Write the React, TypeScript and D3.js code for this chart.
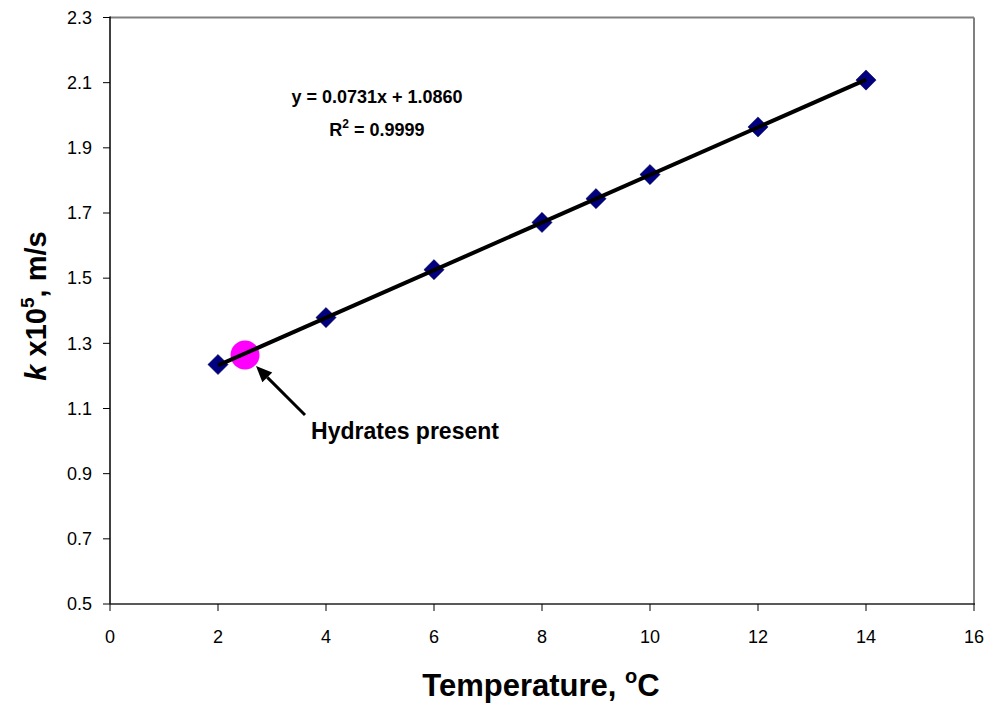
import React from "react";
import * as d3 from "d3";

const temps = [2, 4, 6, 8, 9, 10, 12, 14];
const kValues = [1.235, 1.379, 1.526, 1.671, 1.744, 1.818, 1.964, 2.108];
const hydrateTemp = [2.5];
const hydrateK = [1.264];
const trendSlope = 0.0731;
const trendIntercept = 1.086;
const xTicks = [0, 2, 4, 6, 8, 10, 12, 14, 16];
const yTicks = [0.5, 0.7, 0.9, 1.1, 1.3, 1.5, 1.7, 1.9, 2.1, 2.3];

const W = 988, H = 710;
const left = 110, right = 974, top = 17.5, bottom = 604;

export default function App() {
  const x = d3.scaleLinear().domain([0, 16]).range([left, right]);
  const y = d3.scaleLinear().domain([0.5, 2.3]).range([bottom, top]);
  const font = "'Liberation Sans', Arial, sans-serif";
  const x0 = temps[0], x1 = temps[temps.length - 1];
  const line = d3.line<number>().x((d) => x(d)).y((d) => y(trendSlope * d + trendIntercept));
  const diamond = d3.symbol().type(d3.symbolDiamond2 ?? d3.symbolSquare).size(260)();
  const hx = x(hydrateTemp[0]), hy = y(hydrateK[0]);
  // arrow
  const tipX = hx + 11, tipY = hy + 11;
  const tailX = 305, tailY = 415;
  const ang = Math.atan2(tipY - tailY, tipX - tailX);
  const ah = 16, aw = 7;
  const bx = tipX - ah * Math.cos(ang), by = tipY - ah * Math.sin(ang);
  const p1 = [bx + aw * Math.sin(ang), by - aw * Math.cos(ang)];
  const p2 = [bx - aw * Math.sin(ang), by + aw * Math.cos(ang)];
  return (
    <svg width={W} height={H} style={{ position: "absolute", left: 0, top: 0, background: "#fff" }} fontFamily={font}>
      <rect x={0} y={0} width={W} height={H} fill="#fff" />
      {/* plot frame */}
      <line x1={left} y1={top} x2={right} y2={top} stroke="#808080" strokeWidth={2} />
      <line x1={right} y1={top} x2={right} y2={bottom} stroke="#808080" strokeWidth={2} />
      <line x1={left} y1={top - 1} x2={left} y2={bottom} stroke="#000" strokeWidth={1.5} />
      <line x1={left} y1={bottom} x2={right + 1} y2={bottom} stroke="#222" strokeWidth={1.5} />
      {yTicks.map((t) => (
        <g key={"y" + t}>
          <line x1={left - 7} x2={left} y1={y(t)} y2={y(t)} stroke="#000" strokeWidth={1} />
          <text x={92} y={y(t)} dy="0.35em" textAnchor="end" fontSize={18}>{t.toFixed(1)}</text>
        </g>
      ))}
      {xTicks.map((t) => (
        <g key={"x" + t}>
          <line x1={x(t)} x2={x(t)} y1={bottom} y2={bottom + 7} stroke="#000" strokeWidth={1} />
          <text x={x(t)} y={643} textAnchor="middle" fontSize={18}>{t}</text>
        </g>
      ))}
      {temps.map((t, i) => (
        <path key={i} d={diamond ?? ""} transform={`translate(${x(t)},${y(kValues[i])})`} fill="#000080" stroke="#000040" strokeWidth={0.5} />
      ))}
      <circle cx={hx} cy={hy} r={14.5} fill="#ff00ff" />
      {/* trend line */}
      <path d={line([x0, x1]) ?? ""} stroke="#000" strokeWidth={4} fill="none" />
      {/* arrow */}
      <line x1={tailX} y1={tailY} x2={bx} y2={by} stroke="#000" strokeWidth={3} />
      <polygon points={`${tipX},${tipY} ${p1[0]},${p1[1]} ${p2[0]},${p2[1]}`} fill="#000" />
      <text x={405} y={439} textAnchor="middle" fontSize={23} fontWeight="bold">Hydrates present</text>
      {/* equation */}
      <text x={377} y={103} textAnchor="middle" fontSize={18} fontWeight="bold">y = 0.0731x + 1.0860</text>
      <text x={377} y={136} textAnchor="middle" fontSize={18} fontWeight="bold">
        R<tspan dy={-8} fontSize={12}>2</tspan><tspan dy={8}> = 0.9999</tspan>
      </text>
      {/* axis titles */}
      <text transform={`translate(46,306) rotate(-90)`} textAnchor="middle" fontSize={29} fontWeight="bold">
        <tspan fontStyle="italic">k</tspan> x10<tspan dy={-12} fontSize={19}>5</tspan><tspan dy={12}>, m/s</tspan>
      </text>
      <text x={541} y={696} textAnchor="middle" fontSize={31} fontWeight="bold">
        Temperature, <tspan dy={-13} fontSize={20}>o</tspan><tspan dy={13}>C</tspan>
      </text>
    </svg>
  );
}
